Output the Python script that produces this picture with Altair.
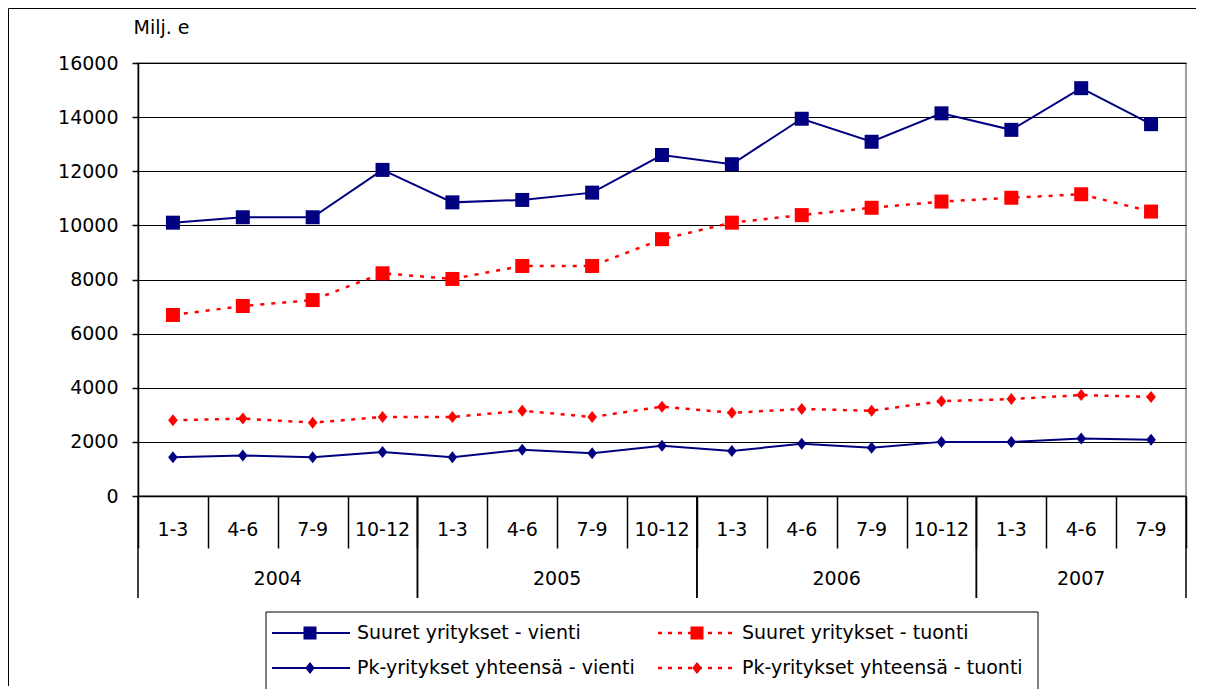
import altair as alt
import pandas as pd

quarters = ["1-3", "4-6", "7-9", "10-12",
            "1-3", "4-6", "7-9", "10-12",
            "1-3", "4-6", "7-9", "10-12",
            "1-3", "4-6", "7-9"]
years = ["2004"] * 4 + ["2005"] * 4 + ["2006"] * 4 + ["2007"] * 3

suuret_vienti = [10100, 10300, 10300, 12050, 10850, 10940, 11210, 12600,
                 12260, 13940, 13090, 14140, 13530, 15070, 13740]
suuret_tuonti = [6690, 7020, 7240, 8230, 8020, 8500, 8500, 9490,
                 10100, 10380, 10650, 10880, 11020, 11150, 10510]
pk_vienti = [1430, 1495, 1430, 1630, 1430, 1710, 1580, 1860,
             1660, 1935, 1785, 2000, 2000, 2125, 2075]
pk_tuonti = [2800, 2860, 2710, 2920, 2920, 3150, 2920, 3300,
             3075, 3215, 3150, 3505, 3580, 3730, 3660]

series_names = ["Suuret yritykset - vienti", "Suuret yritykset - tuonti",
                "Pk-yritykset yhteensä - vienti", "Pk-yritykset yhteensä - tuonti"]

NAVY = "#000080"
RED = "#FF0000"
FONT = "DejaVu Sans"
W, H = 1048, 433
DIAMOND = "M0,-1L0.8,0L0,1L-0.8,0Z"

df = pd.DataFrame({
    "idx": list(range(len(quarters))),
    "quarter": quarters,
    "year": years,
    "sv": suuret_vienti,
    "st": suuret_tuonti,
    "pv": pk_vienti,
    "pt": pk_tuonti,
})

base = alt.Chart(df).transform_calculate(pos="datum.idx + 0.5")

x_axis = alt.Axis(values=list(range(16)), labels=False, tickSize=52,
                  tickColor="black", tickWidth=1.5, domainColor="black",
                  domainWidth=1.5, grid=False, title=None)
x_scale = alt.Scale(domain=[0, 15], nice=False, zero=False)
y_scale = alt.Scale(domain=[0, 16000], nice=False)
y_axis = alt.Axis(values=list(range(0, 16001, 2000)), format="d", tickSize=6,
                  tickColor="black", tickWidth=1.5, labelPadding=14, labelFontSize=19,
                  labelColor="black", labelFont=FONT, domainColor="black", domainWidth=1.5,
                  grid=True, gridColor="black", gridWidth=1,
                  title="Milj. e", titleAngle=0, titleX=-5, titleY=-30,
                  titleAlign="left", titleBaseline="alphabetic", titleFontSize=19,
                  titleFont=FONT, titleFontWeight="normal", titleColor="black")


def xenc(field="pos"):
    return alt.X(f"{field}:Q", scale=x_scale, axis=x_axis)


def yenc(field):
    return alt.Y(f"{field}:Q", scale=y_scale, axis=y_axis)


layers = []

# lines
layers.append(base.mark_line(color=RED, strokeWidth=2.5, strokeDash=[4, 7]).encode(
    x=xenc(), y=yenc("st")))
layers.append(base.mark_line(color=RED, strokeWidth=2.5, strokeDash=[4, 6.5]).encode(
    x=xenc(), y=yenc("pt")))
layers.append(base.mark_line(color=NAVY, strokeWidth=2).encode(x=xenc(), y=yenc("sv")))
layers.append(base.mark_line(color=NAVY, strokeWidth=2).encode(x=xenc(), y=yenc("pv")))

# markers
layers.append(base.mark_point(shape="square", filled=True, size=196, color=RED, opacity=1).encode(
    x=xenc(), y=yenc("st")))
layers.append(base.mark_point(shape=DIAMOND, filled=True, size=144, color=RED, opacity=1).encode(
    x=xenc(), y=yenc("pt")))
layers.append(base.mark_point(shape="square", filled=True, size=196, color=NAVY, opacity=1).encode(
    x=xenc(), y=yenc("sv")))
layers.append(base.mark_point(shape=DIAMOND, filled=True, size=144, color=NAVY, opacity=1).encode(
    x=xenc(), y=yenc("pv")))

# quarter labels
layers.append(base.mark_text(font=FONT, fontSize=19, color="black", baseline="middle").encode(
    x=xenc(), y=alt.value(H + 34), text="quarter:N"))

# year separators
years_agg = alt.Chart(df).transform_aggregate(
    start="min(idx)", last="max(idx)", groupby=["year"]
).transform_calculate(end="datum.last + 1")
layers.append(years_agg.mark_rule(color="black", strokeWidth=1.5).encode(
    x=xenc("start"), y=alt.value(H), y2=alt.value(H + 102)))
layers.append(years_agg.mark_rule(color="black", strokeWidth=1.5).encode(
    x=xenc("end"), y=alt.value(H), y2=alt.value(H + 102)))

# year labels
layers.append(base.transform_aggregate(center="mean(pos)", groupby=["year"]).mark_text(
    font=FONT, fontSize=19, color="black", baseline="middle").encode(
    x=xenc("center"), y=alt.value(H + 83), text="year:N"))

# outer frame (left and top edges)
one = pd.DataFrame({"k": [0]})
layers.append(alt.Chart(one).mark_rule(color="black", strokeWidth=1).encode(
    x=alt.value(-129.5), y=alt.value(-54.5), y2=alt.value(H + 190)))
layers.append(alt.Chart(one).mark_rule(color="black", strokeWidth=1).encode(
    x=alt.value(-129.5), x2=alt.value(W + 10), y=alt.value(-54.5)))

# legend box
layers.append(alt.Chart(one).mark_rect(
    fill="white", stroke="black", strokeWidth=1).encode(
    x=alt.value(128), x2=alt.value(900), y=alt.value(549), y2=alt.value(629)))

legend_specs = [
    (0, 134, 212, 172, 219, 570, NAVY, None, "square", 170),
    (1, 520, 599, 559, 604, 570, RED, [4, 6], "square", 170),
    (2, 134, 212, 172, 219, 605, NAVY, None, DIAMOND, 144),
    (3, 520, 599, 559, 604, 605, RED, [4, 6], DIAMOND, 144),
]
for (i, lx1, lx2, mx, tx, ry, col, dash, shp, sz) in legend_specs:
    ldf = pd.DataFrame({"label": [series_names[i]]})
    rule_kwargs = dict(color=col, strokeWidth=2 if dash is None else 2.5)
    if dash is not None:
        rule_kwargs["strokeDash"] = dash
    layers.append(alt.Chart(ldf).mark_rule(**rule_kwargs).encode(
        x=alt.value(lx1), x2=alt.value(lx2), y=alt.value(ry)))
    layers.append(alt.Chart(ldf).mark_point(shape=shp, filled=True, size=sz, color=col, opacity=1).encode(
        x=alt.value(mx), y=alt.value(ry)))
    layers.append(alt.Chart(ldf).mark_text(font=FONT, fontSize=19, color="black",
                                           align="left", baseline="middle").encode(
        x=alt.value(tx), y=alt.value(ry), text="label:N"))

chart = alt.layer(*layers).properties(
    width=W, height=H,
    autosize=alt.AutoSizeParams(type="none"),
    padding={"left": 130, "top": 55, "right": 14, "bottom": 193},
).configure(
    font=FONT,
).configure_view(
    stroke="#808080", strokeWidth=1.5,
)

chart.save("out.html", embed_options={"renderer": "svg", "actions": False})
